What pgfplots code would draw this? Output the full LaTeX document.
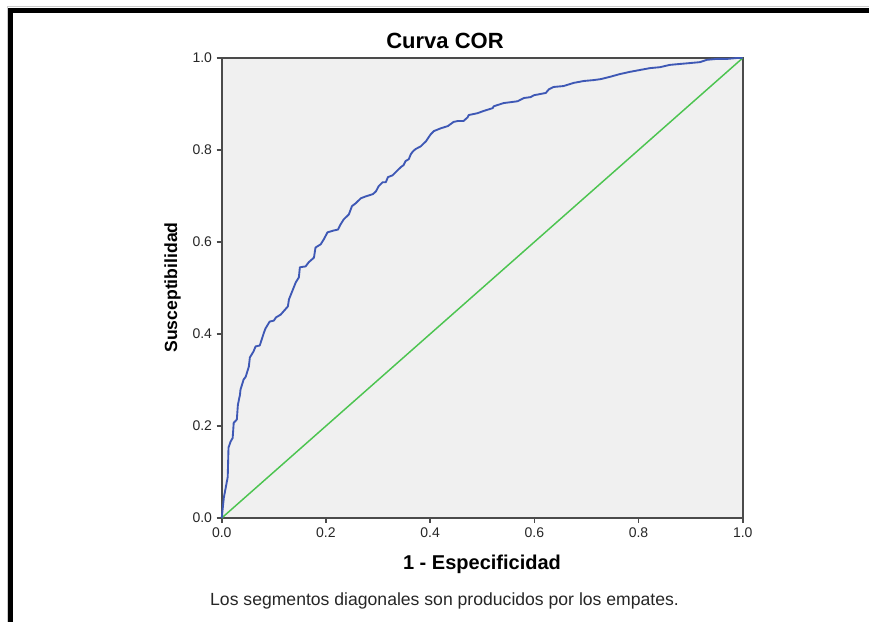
\documentclass[border=0pt]{standalone}
\usepackage{pgfplots}
\pgfplotsset{compat=1.18}
\usepackage{fontspec}
\setmainfont{Liberation Sans}

\definecolor{rocblue}{RGB}{62,88,181}
\definecolor{refgreen}{RGB}{76,196,80}
\definecolor{plotbg}{RGB}{240,240,240}
\definecolor{axisgray}{RGB}{75,75,75}

\begin{document}
\begin{tikzpicture}
% page = 869 x 622 px, 1 px = 0.75pt
\path[use as bounding box] (0pt,0pt) rectangle (651.75pt,466.5pt);
% frame of the output viewer
\draw[gray!40, line width=0.75pt] (5.25pt,0pt) -- (5.25pt,461.25pt) -- (651.75pt,461.25pt);
\draw[black, line width=3.75pt] (7.875pt,0pt) -- (7.875pt,458.625pt) -- (651.75pt,458.625pt);

\begin{axis}[
    at={(166.3pt,78pt)}, anchor=south west,
    scale only axis,
    width=390.75pt, height=345pt,
    xmin=0, xmax=1, ymin=0, ymax=1,
    xtick={0,0.2,...,1}, ytick={0,0.2,...,1},
    tick pos=left, tick align=outside,
    major tick length=3.75pt,
    tick style={axisgray, line width=1.2pt},
    axis line style={axisgray, line width=1.5pt},
    axis background/.style={fill=plotbg},
    /pgf/number format/assume math mode=true,
    /pgf/number format/.cd, fixed, fixed zerofill, precision=1,
    /pgfplots/.cd,
    ticklabel style={font=\fontsize{10.5}{12}\selectfont, text=black!85},
    clip=false,
]
    % diagonal reference line
    \addplot[refgreen, line width=1.1pt] coordinates {(0,0) (1,1)};

    % ROC curve
    \addplot[rocblue, line width=1.4pt, line join=round] coordinates {
        (0,0) (0.004,0.044) (0.0115,0.089) (0.013,0.153) (0.017,0.166)
        (0.021,0.174) (0.023,0.207) (0.029,0.214) (0.031,0.246) (0.035,0.268)
        (0.036,0.279) (0.042,0.301) (0.046,0.307) (0.052,0.329) (0.054,0.349)
        (0.061,0.362) (0.065,0.373) (0.073,0.375) (0.081,0.403) (0.084,0.412)
        (0.092,0.427) (0.100,0.429) (0.104,0.436) (0.113,0.442) (0.127,0.460)
        (0.129,0.475) (0.142,0.512) (0.148,0.523) (0.150,0.545) (0.161,0.547)
        (0.167,0.556) (0.177,0.566) (0.180,0.588) (0.190,0.595) (0.196,0.606)
        (0.203,0.621) (0.215,0.625) (0.223,0.627) (0.228,0.638) (0.234,0.649)
        (0.244,0.660) (0.250,0.678) (0.257,0.684) (0.267,0.695) (0.276,0.699)
        (0.290,0.704) (0.296,0.710) (0.301,0.721) (0.309,0.730) (0.315,0.730)
        (0.319,0.741) (0.328,0.745) (0.334,0.752) (0.344,0.763) (0.349,0.767)
        (0.353,0.776) (0.359,0.780) (0.363,0.791) (0.367,0.797) (0.372,0.802)
        (0.382,0.808) (0.392,0.819) (0.401,0.834) (0.407,0.841) (0.420,0.847)
        (0.434,0.852) (0.445,0.861) (0.453,0.863) (0.464,0.863) (0.472,0.871)
        (0.474,0.876) (0.491,0.880) (0.503,0.885) (0.520,0.891) (0.522,0.895)
        (0.541,0.902) (0.555,0.904) (0.568,0.906) (0.580,0.913) (0.593,0.915)
        (0.599,0.919) (0.622,0.924) (0.628,0.932) (0.637,0.937) (0.656,0.939)
        (0.676,0.946) (0.695,0.950) (0.714,0.952) (0.727,0.954) (0.745,0.959)
        (0.764,0.965) (0.784,0.970) (0.803,0.974) (0.822,0.978) (0.841,0.980)
        (0.860,0.985) (0.879,0.987) (0.899,0.989) (0.918,0.991) (0.931,0.996)
        (0.950,0.998) (0.970,0.998) (0.989,1.0) (1,1)
    };
\end{axis}

% titles and labels (positions)
\node[anchor=base, font=\fontsize{16.5}{19}\selectfont\bfseries] at (333.75pt,429.75pt) {Curva COR};
\node[anchor=base, font=\fontsize{15}{18}\selectfont\bfseries] at (361.5pt,39pt) {1 - Especificidad};
\node[anchor=base, rotate=90, font=\fontsize{13.2}{16}\selectfont\bfseries] at (132.75pt,250.9pt) {Susceptibilidad};
\node[anchor=base, font=\fontsize{13.2}{15}\selectfont, text=black!85] at (333.4pt,12pt) {Los segmentos diagonales son producidos por los empates.};
\end{tikzpicture}
\end{document}
